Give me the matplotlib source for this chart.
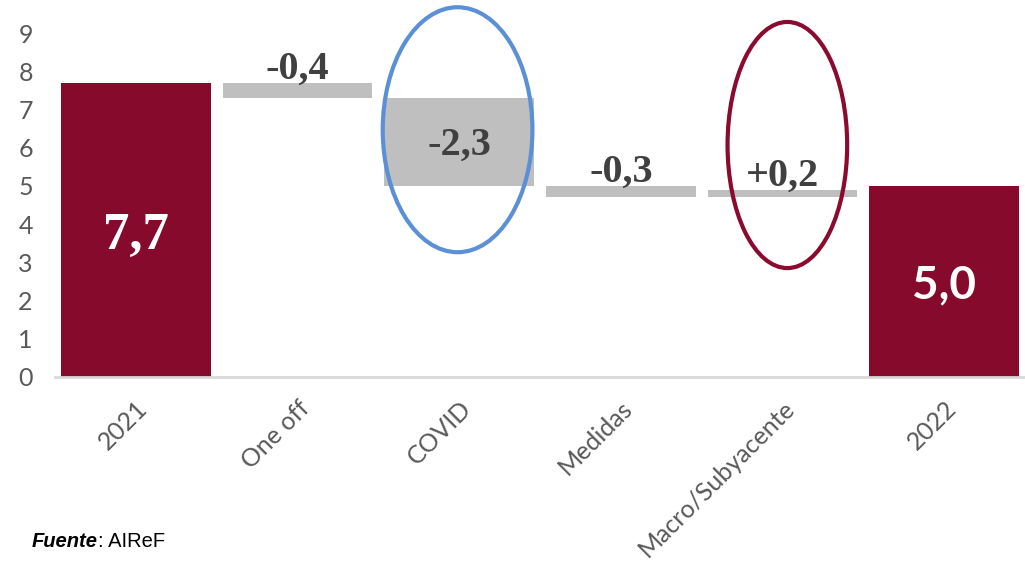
import numpy as np
import matplotlib.pyplot as plt
from matplotlib.patches import Ellipse

# datos de la cascada
categorias = ['2021', 'One off', 'COVID', 'Medidas', 'Macro/Subyacente', '2022']
inicial = 7.7
variaciones = [-0.4, -2.3, -0.3, 0.2]
final = 5.0

rojo = '#850A2B'
gris = '#BFBFBF'
texto = '#404040'

def fmt(v, signo=False):
    s = ('%+.1f' if signo and v > 0 else '%.1f') % v
    return s.replace('.', ',')

fig = plt.figure(figsize=(10.25, 5.62), dpi=100)
ax = fig.add_axes([0.0537, 0.3292, 0.9463, 0.612])

x = np.arange(len(categorias))
ancho = 0.925

# barras de los extremos
ax.bar([x[0], x[-1]], [inicial, final], width=ancho, color=rojo, zorder=2)

# barras flotantes
acum = inicial
for i, v in enumerate(variaciones):
    nuevo = acum + v
    base = min(acum, nuevo)
    ax.bar(x[i + 1], abs(v), bottom=base, width=ancho, color=gris, zorder=2)
    if abs(v) > 1:
        ax.text(x[i + 1], base + abs(v) / 2 - 0.1, fmt(v), ha='center', va='center',
                fontsize=29, fontweight='bold', family='Liberation Serif', color=texto)
    else:
        ax.text(x[i + 1], max(acum, nuevo) + 0.1, fmt(v, signo=True), ha='center',
                va='baseline', fontsize=29, fontweight='bold', family='Liberation Serif',
                color=texto)
    acum = nuevo

ax.text(x[0], 3.7, fmt(inicial), ha='center', va='center', fontsize=38,
        fontweight='bold', family='Liberation Serif', color='white')
ax.text(x[-1], 2.4, fmt(final), ha='center', va='center', fontsize=33,
        fontweight='bold', family='Lato', color='white')

# elipses de resalte
ax.add_patch(Ellipse((1.99, 6.47), 0.926, 6.41, fill=False, edgecolor='#5B8FD6',
                     linewidth=3, clip_on=False, zorder=3))
ax.add_patch(Ellipse((4.03, 6.07), 0.74, 6.44, fill=False, edgecolor='#8B0A30',
                     linewidth=3, clip_on=False, zorder=3))

ax.set_xlim(-0.5, 5.5)
ax.set_ylim(0, 9)
ax.set_yticks(range(0, 10))
ax.set_xticks(x)
ax.set_xticklabels(categorias, rotation=45, ha='right', rotation_mode='anchor',
                   family='Lato', fontsize=18, color='#595959')
for t in ax.get_yticklabels():
    t.set_family('Lato')
    t.set_fontsize(18)
    t.set_color('#595959')
ax.tick_params(axis='both', length=0)
ax.tick_params(axis='y', pad=16)
ax.tick_params(axis='x', pad=14)

for s in ['top', 'right', 'left']:
    ax.spines[s].set_visible(False)
ax.spines['bottom'].set_color('#D9D9D9')
ax.spines['bottom'].set_linewidth(2)

# nota de fuente: parte en negrita cursiva y resto normal
fuente = fig.text(0.031, 0.02, 'Fuente', fontsize=14.5, va='bottom', ha='left',
                  family='Liberation Sans', fontweight='bold', style='italic')
fig.canvas.draw()
bb = fuente.get_window_extent()
fig.text(bb.x1 / fig.bbox.width, 0.02, ': AIReF', fontsize=14.5, va='bottom', ha='left',
         family='Liberation Sans')

fig.savefig('out.png', dpi=100)
